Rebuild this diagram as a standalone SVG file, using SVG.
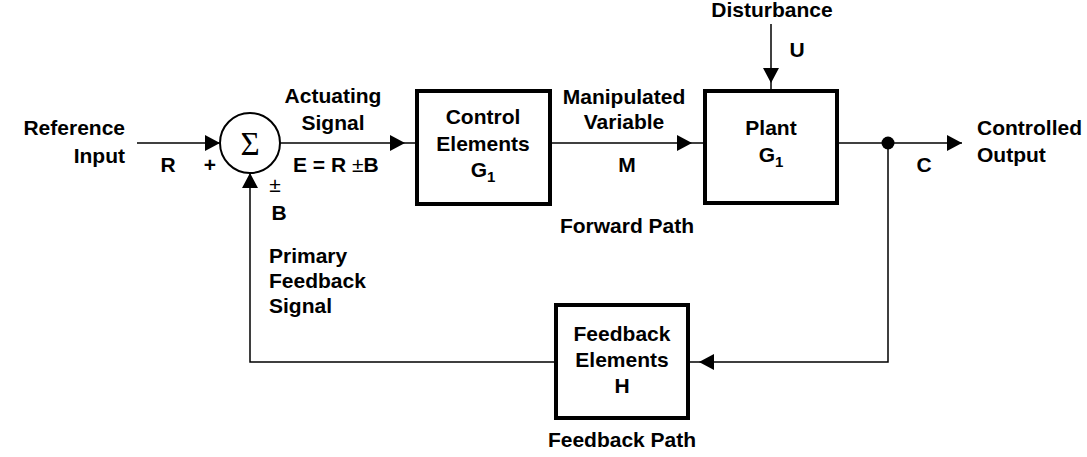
<svg xmlns="http://www.w3.org/2000/svg" width="1087" height="457" viewBox="0 0 1087 457">
<defs>
<style>
text{font-family:"Liberation Sans",Arial,sans-serif;font-weight:bold;font-size:21px;fill:#000}
.m{text-anchor:middle}
.e{text-anchor:end}
.box{fill:#fff;stroke:#000;stroke-width:4}
.wire{fill:none;stroke:#000;stroke-width:1.5}
.sub{font-size:15px}
</style>
<marker id="ah" markerUnits="userSpaceOnUse" markerWidth="16" markerHeight="18" refX="15" refY="8" orient="auto" viewBox="0 0 16 16">
<path d="M0,0 L15,8 L0,16 Z" fill="#000"/>
</marker>
</defs>
<rect width="1087" height="457" fill="#fff"/>

<g id="connectors">
<path class="wire" d="M137,143 L220,143" marker-end="url(#ah)"/>
<path class="wire" d="M280,143 L405,143" marker-end="url(#ah)"/>
<path class="wire" d="M405,143 L417,143"/>
<path class="wire" d="M550,143 L692,143" marker-end="url(#ah)"/>
<path class="wire" d="M692,143 L705,143"/>
<path class="wire" d="M771,24 L771,83" marker-end="url(#ah)"/>
<path class="wire" d="M771,83 L771,91"/>
<path class="wire" d="M837,143 L962,143" marker-end="url(#ah)"/>
<path class="wire" d="M888,143 L888,362 L699,362" marker-end="url(#ah)"/>
<path class="wire" d="M699,362 L688,362"/>
<path class="wire" d="M556,362 L250,362 L250,173" marker-end="url(#ah)"/>
<circle cx="888" cy="143" r="6.5" fill="#000"/>
</g>

<g id="sum">
<circle cx="250" cy="143" r="30" fill="#fff" stroke="#000" stroke-width="2"/>
<text x="250" y="155" class="m" style="font-family:'Liberation Serif','Times New Roman',serif;font-weight:normal;font-size:33px">Σ</text>
</g>

<g id="control">
<rect class="box" x="417" y="91" width="133" height="113"/>
<text x="483" y="124" class="m">Control</text>
<text x="483" y="151" class="m">Elements</text>
<text x="483" y="177" class="m">G<tspan class="sub" dy="5">1</tspan></text>
</g>

<g id="plant">
<rect class="box" x="705" y="91" width="132" height="112"/>
<text x="771" y="135" class="m">Plant</text>
<text x="771" y="162" class="m">G<tspan class="sub" dy="5">1</tspan></text>
</g>

<g id="feedback">
<rect class="box" x="556" y="305" width="132" height="113"/>
<text x="622" y="341" class="m">Feedback</text>
<text x="622" y="367" class="m">Elements</text>
<text x="622" y="393" class="m">H</text>
</g>

<g id="labels">
<text x="125" y="135" class="e">Reference</text>
<text x="125" y="163" class="e">Input</text>
<text x="168" y="172" class="m">R</text>
<text x="210" y="172" class="m">+</text>
<text x="333" y="103" class="m">Actuating</text>
<text x="333" y="130" class="m">Signal</text>
<text x="293" y="172">E = R <tspan style="font-weight:normal">±</tspan>B</text>
<text x="275" y="192" class="m" style="font-weight:normal">±</text>
<text x="279" y="220" class="m">B</text>
<text x="269" y="263">Primary</text>
<text x="269" y="288">Feedback</text>
<text x="269" y="313">Signal</text>
<text x="624" y="104" class="m">Manipulated</text>
<text x="624" y="129" class="m">Variable</text>
<text x="627" y="172" class="m">M</text>
<text x="627" y="233" class="m">Forward Path</text>
<text x="772" y="17" class="m">Disturbance</text>
<text x="797" y="57" class="m">U</text>
<text x="924" y="172" class="m">C</text>
<text x="977" y="135">Controlled</text>
<text x="977" y="162">Output</text>
<text x="622" y="447" class="m">Feedback Path</text>
</g>
</svg>
